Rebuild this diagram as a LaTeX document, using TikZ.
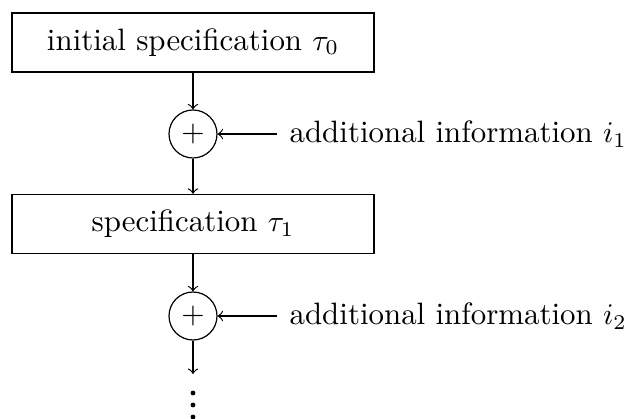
\documentclass[tikz,border=0pt]{standalone}
\usetikzlibrary{arrows}
\begin{document}
\begin{tikzpicture}[x=0.33333pt,y=-0.33333pt,
  every node/.style={font=\fontsize{10.3pt}{12pt}\selectfont},
  specbox/.style={draw,rectangle,minimum width=120.7pt,minimum height=19.7pt,inner sep=0pt},
  plusnode/.style={draw,circle,minimum size=16pt,inner sep=0pt},
  infonode/.style={anchor=west,inner sep=4pt},
  flow/.style={->},
  dotmark/.style={fill=black,circle,inner sep=0pt,minimum size=1.6pt}]
  \useasboundingbox (0,0) rectangle (630,419);
  \node[specbox] (s0) at (193,42.5) {initial specification $\tau_0$};
  \node[plusnode] (p1) at (193,134) {$+$};
  \node[infonode] (i1) at (277,134) {additional information $i_1$};
  \node[specbox] (s1) at (193,224) {specification $\tau_1$};
  \node[plusnode] (p2) at (193,316) {$+$};
  \node[infonode] (i2) at (277,316) {additional information $i_2$};
  \coordinate (e) at (193,374);
  \node[dotmark] (d1) at (193,393) {};
  \node[dotmark] (d2) at (193,405) {};
  \node[dotmark] (d3) at (193,417) {};
  \draw[flow] (s0) -- (p1);
  \draw[flow] (i1.west) -- (p1);
  \draw[flow] (p1) -- (s1);
  \draw[flow] (s1) -- (p2);
  \draw[flow] (i2.west) -- (p2);
  \draw[flow] (p2) -- (e);
\end{tikzpicture}
\end{document}
